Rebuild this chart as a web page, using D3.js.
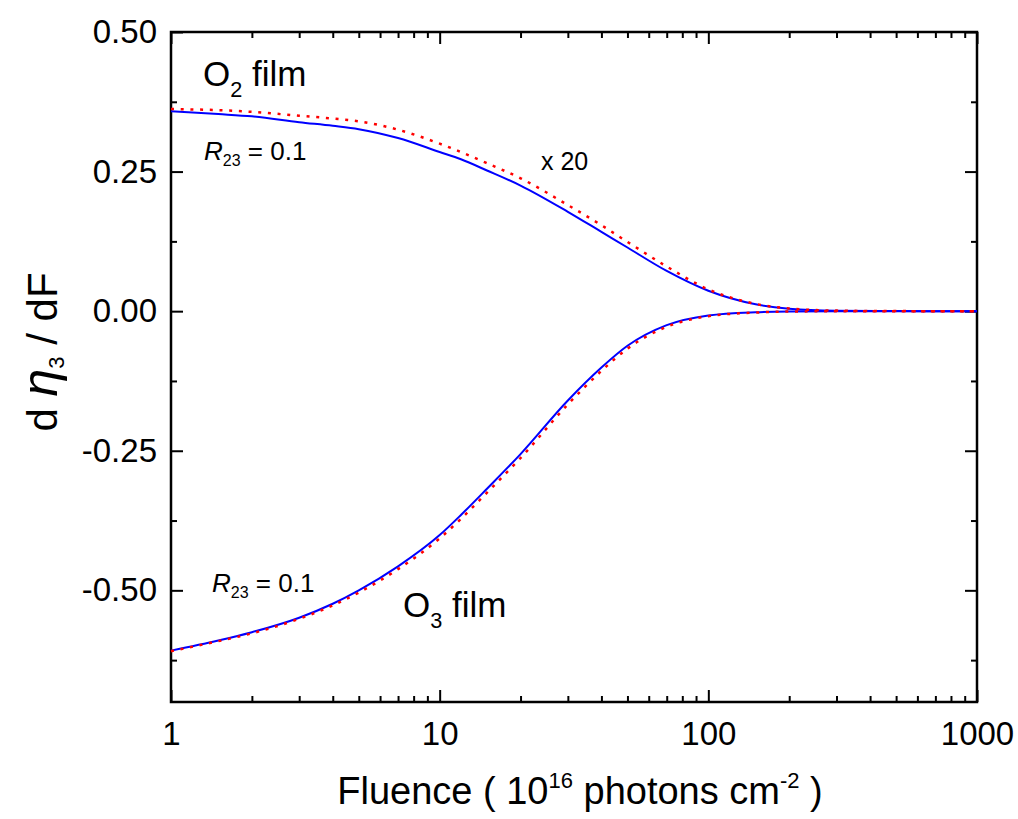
<!DOCTYPE html>
<html>
<head>
<meta charset="utf-8">
<script src="https://cdn.jsdelivr.net/npm/d3@7"></script>
<style>
  html, body { margin: 0; padding: 0; background: #fff; }
  svg text { font-family: "Liberation Sans", Arial, Helvetica, sans-serif; fill: #000; }
</style>
</head>
<body>
<svg id="chart" width="1018" height="819"></svg>
<script>
// Fluence grid (10^16 photons cm^-2)
const fluence = [1, 1.5, 2, 3, 4, 5, 7, 10, 12, 15, 20, 30, 40, 50, 70, 100, 150, 200, 300, 500, 1000];

// d eta3 / dF, O2 film (scaled x 20)
const o2Solid  = [0.358, 0.353, 0.349, 0.3385, 0.332, 0.326, 0.310, 0.285, 0.272, 0.252, 0.225, 0.178, 0.142, 0.114, 0.072, 0.0365, 0.0123, 0.0044, 0.0008, 0.0001, 0];
const o2Dotted = [0.362, 0.360, 0.357, 0.350, 0.345, 0.340, 0.325, 0.300, 0.285, 0.265, 0.238, 0.190, 0.154, 0.124, 0.080, 0.039, 0.013, 0.0048, 0.001, 0.0001, 0];

// d eta3 / dF, O3 film
const o3Solid  = [-0.608, -0.590, -0.575, -0.549, -0.524, -0.500, -0.457, -0.401, -0.365, -0.318, -0.256, -0.160, -0.101, -0.062, -0.025, -0.0076, -0.0018, -0.0005, -0.0001, 0, 0];
const o3Dotted = [-0.609, -0.591, -0.577, -0.551, -0.527, -0.504, -0.462, -0.407, -0.372, -0.325, -0.263, -0.167, -0.107, -0.067, -0.028, -0.009, -0.0025, -0.0007, -0.0001, 0, 0];

// Axis ticks
const xTickValues = [1, 10, 100, 1000];
const xTickLabels = ["1", "10", "100", "1000"];
const yTickValues = [0.50, 0.25, 0.00, -0.25, -0.50];
const yTickLabels = ["0.50", "0.25", "0.00", "-0.25", "-0.50"];

const margin = { left: 171, top: 32, right: 1018 - 977, bottom: 819 - 702 };
const width = 1018 - margin.left - margin.right;
const height = 819 - margin.top - margin.bottom;

const svg = d3.select("#chart");
const g = svg.append("g").attr("transform", `translate(${margin.left},${margin.top})`);

const x = d3.scaleLog().domain([1, 1000]).range([0, width]);
const y = d3.scaleLinear().domain([-0.70, 0.50]).range([height, 0]);

// minor ticks
const xMinor = [];
[1, 10, 100].forEach(d => { for (let k = 2; k <= 9; k++) xMinor.push(d * k); });
const yMinor = [0.375, 0.125, -0.125, -0.375, -0.625];

const MAJ = 12, MIN = 6;

// bottom / left axes carry labels, top / right mirror the ticks
g.append("g").attr("transform", `translate(0,${height})`)
  .call(d3.axisBottom(x).tickValues(xTickValues).tickSize(-MAJ).tickPadding(20)
    .tickFormat((d, i) => xTickLabels[i]));
g.append("g")
  .call(d3.axisTop(x).tickValues(xTickValues).tickSize(-MAJ).tickFormat(""));
g.append("g")
  .call(d3.axisLeft(y).tickValues(yTickValues).tickSize(-MAJ).tickPadding(14)
    .tickFormat((d, i) => yTickLabels[i]));
g.append("g").attr("transform", `translate(${width},0)`)
  .call(d3.axisRight(y).tickValues(yTickValues).tickSize(-MAJ).tickFormat(""));

g.append("g").attr("transform", `translate(0,${height})`)
  .call(d3.axisBottom(x).tickValues(xMinor).tickSize(-MIN).tickFormat(""));
g.append("g")
  .call(d3.axisTop(x).tickValues(xMinor).tickSize(-MIN).tickFormat(""));
g.append("g")
  .call(d3.axisLeft(y).tickValues(yMinor).tickSize(-MIN).tickFormat(""));
g.append("g").attr("transform", `translate(${width},0)`)
  .call(d3.axisRight(y).tickValues(yMinor).tickSize(-MIN).tickFormat(""));

g.selectAll(".domain").remove();
g.selectAll(".tick line").attr("stroke", "#000").attr("stroke-width", 2);
g.selectAll(".tick text").attr("font-size", 33).attr("fill", "#000")
  .attr("font-family", "'Liberation Sans', Arial, sans-serif");

// frame
g.append("rect").attr("x", 0).attr("y", 0).attr("width", width).attr("height", height)
  .attr("fill", "none").attr("stroke", "#000").attr("stroke-width", 2.5);

// curves
const line = d3.line().x((d, i) => x(fluence[i])).y(d => y(d)).curve(d3.curveMonotoneX);
const plot = g.append("g");
[o2Solid, o3Solid].forEach(s => {
  plot.append("path").attr("d", line(s)).attr("fill", "none")
    .attr("stroke", "#0000ff").attr("stroke-width", 2);
});
[o2Dotted, o3Dotted].forEach(s => {
  plot.append("path").attr("d", line(s)).attr("fill", "none")
    .attr("stroke", "#ff0000").attr("stroke-width", 2.5)
    .attr("stroke-dasharray", "3,6.7");
});

// annotations
function filmLabel(px, py, sub, size) {
  const t = svg.append("text").attr("x", px).attr("y", py).attr("font-size", size);
  t.append("tspan").text("O");
  t.append("tspan").attr("font-size", size * 0.62).attr("dy", size * 0.32).text(sub);
  t.append("tspan").attr("dy", -size * 0.32).text(" film");
}
filmLabel(203, 86, "2", 35);
filmLabel(403, 617, "3", 35);

function rLabel(px, py) {
  const t = svg.append("text").attr("x", px).attr("y", py).attr("font-size", 26);
  t.append("tspan").attr("font-style", "italic").text("R");
  t.append("tspan").attr("font-size", 16).attr("dy", 6).text("23");
  t.append("tspan").attr("dy", -6).text(" = 0.1");
}
rLabel(204, 160);
rLabel(212, 592);

svg.append("text").attr("x", 541).attr("y", 170).attr("font-size", 25).text("x 20");

// axis titles
const xt = svg.append("text").attr("x", 580).attr("y", 804).attr("text-anchor", "middle").attr("font-size", 38);
xt.append("tspan").text("Fluence ( 10");
xt.append("tspan").attr("font-size", 22).attr("dy", -16).text("16");
xt.append("tspan").attr("dy", 16).text(" photons cm");
xt.append("tspan").attr("font-size", 22).attr("dy", -16).text("-2");
xt.append("tspan").attr("dy", 16).text(" )");

const yt = svg.append("text").attr("transform", "translate(57,352) rotate(-90)")
  .attr("text-anchor", "middle").attr("font-size", 42);
yt.append("tspan").text("d ");
yt.append("tspan").attr("font-style", "italic").attr("font-size", 50).text("η");
yt.append("tspan").attr("font-size", 22).attr("dy", 7).text("3");
yt.append("tspan").attr("dy", -7).text(" / dF");
</script>
</body>
</html>
